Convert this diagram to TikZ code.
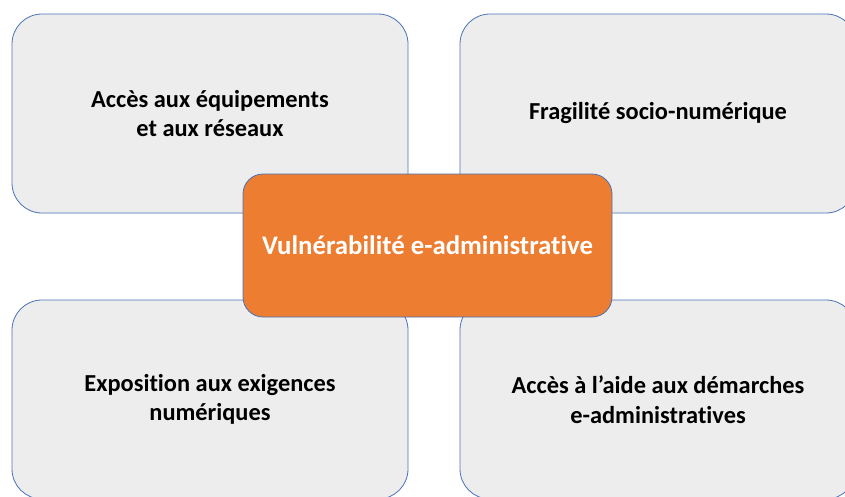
\documentclass[tikz,border=0pt]{standalone}
\usepackage{fontspec}
\setmainfont[Ligatures=NoCommon]{Carlito}
\definecolor{quadfill}{HTML}{EDEDED}
\definecolor{quadline}{HTML}{4A72B8}
\definecolor{hubfill}{HTML}{ED7D31}
\tikzset{
  quad/.style={draw=quadline, fill=quadfill, line width=0.8pt,
    rounded corners=30pt, minimum width=396pt, minimum height=199pt,
    inner sep=0pt, align=center, text=black,
    font=\bfseries\fontsize{24.4}{29.5}\selectfont},
  hub/.style={draw=quadline, fill=hubfill, line width=0.8pt,
    rounded corners=20pt, minimum width=369pt, minimum height=143pt,
    inner sep=0pt, align=center, text=white,
    font=\bfseries\fontsize{26.8}{32}\selectfont}
}
\begin{document}
\begin{tikzpicture}[x=1pt,y=-1pt]
  \useasboundingbox (0,0) rectangle (845,496);
  \clip (0,0) rectangle (845,496);
  \fill[white] (0,0) rectangle (845,496);
  % four surrounding quadrants
  \node[quad] (tl) at (210,113.5) {Accès aux équipements\\et aux réseaux};
  \node[quad] (tr) at (658,113.5) {Fragilité socio-numérique};
  \node[quad] (bl) at (210,399.5) {Exposition aux exigences\\numériques};
  \node[quad] (br) at (658,399.5) {Accès à l’aide aux démarches\\e-administratives};
  % central box
  \node[hub] (hub) at (427.5,245.5) {Vulnérabilité e-administrative};
\end{tikzpicture}
\end{document}
